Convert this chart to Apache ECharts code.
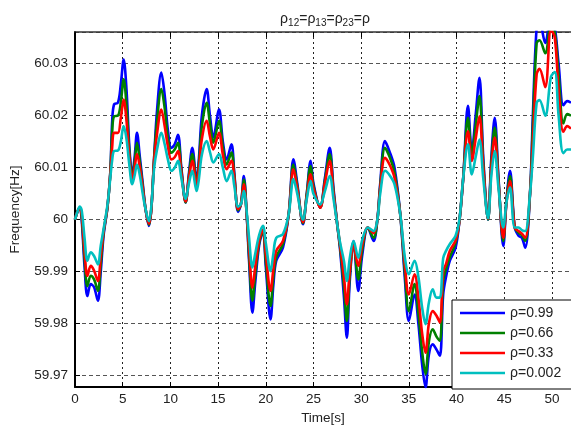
<!DOCTYPE html>
<html>
<head>
<meta charset="utf-8">
<script src="https://cdn.jsdelivr.net/npm/echarts@6/dist/echarts.min.js"></script>
<style>html,body{margin:0;padding:0;background:#fff}#c{width:571px;height:430px}</style>
</head>
<body>
<div id="c"></div>
<script>
var timeS = [0.0,0.25,0.5,0.7,1.0,1.3,1.65,2.0,2.4,2.7,3.0,3.4,3.7,3.9,4.1,4.5,4.8,5.1,5.4,5.7,6.0,6.25,6.5,6.8,7.1,7.4,7.75,8.0,8.3,8.6,9.05,9.4,9.75,10.1,10.45,10.8,11.15,11.6,11.95,12.3,12.75,13.0,13.3,13.8,14.15,14.5,15.1,15.5,15.9,16.4,16.7,17.1,17.4,17.7,18.0,18.25,18.6,18.9,19.3,19.7,20.0,20.5,20.8,21.1,21.8,22.4,22.9,23.3,23.9,24.3,24.7,25.0,25.7,26.2,26.7,27.1,27.5,27.8,28.2,28.5,28.8,29.2,29.7,30.1,30.7,31.3,31.7,32.0,32.5,33.0,33.5,34.1,34.6,35.0,35.6,36.0,36.4,36.75,37.1,37.5,37.9,38.25,38.6,38.9,39.3,39.9,40.3,40.7,41.2,41.6,42.0,42.4,42.8,43.3,43.65,44.0,44.4,44.9,45.25,45.6,46.1,46.5,46.85,47.2,47.7,48.0,48.4,48.7,49.3,49.9,50.3,50.7,51.2,51.6,52.0];

var freqRho099 = [60.0000,60.0015,60.0023,60.0000,59.9910,59.9853,59.9876,59.9870,59.9844,59.9900,59.9970,60.0023,60.0090,60.0190,60.0222,60.0225,60.0260,60.0308,60.0250,60.0140,60.0087,60.0120,60.0167,60.0120,60.0070,60.0020,59.9988,60.0020,60.0120,60.0210,60.0283,60.0240,60.0170,60.0138,60.0145,60.0163,60.0100,60.0033,60.0090,60.0138,60.0075,60.0120,60.0200,60.0251,60.0200,60.0158,60.0212,60.0150,60.0116,60.0145,60.0090,60.0015,60.0030,60.0084,60.0010,59.9920,59.9821,59.9880,59.9950,59.9978,59.9910,59.9808,59.9875,59.9921,59.9946,60.0010,60.0116,60.0070,59.9991,60.0050,60.0113,60.0070,60.0023,60.0080,60.0138,60.0060,59.9990,59.9940,59.9850,59.9773,59.9880,59.9959,59.9863,59.9930,59.9985,59.9959,60.0000,60.0070,60.0151,60.0130,60.0100,60.0010,59.9882,59.9805,59.9856,59.9800,59.9720,59.9677,59.9740,59.9760,59.9750,59.9738,59.9856,59.9890,59.9921,59.9946,59.9997,60.0080,60.0219,60.0132,60.0200,60.0273,60.0120,60.0000,60.0120,60.0196,60.0080,59.9949,60.0040,60.0094,59.9985,59.9969,59.9965,59.9946,60.0049,60.0200,60.0370,60.0380,60.0340,60.0390,60.0370,60.0300,60.0220,60.0228,60.0225];

var freqRho066 = [60.0000,60.0015,60.0023,60.0005,59.9925,59.9872,59.9892,59.9885,59.9863,59.9915,59.9975,60.0023,60.0090,60.0170,60.0199,60.0200,60.0225,60.0270,60.0220,60.0130,60.0081,60.0110,60.0148,60.0110,60.0065,60.0020,59.9990,60.0020,60.0120,60.0190,60.0251,60.0215,60.0155,60.0129,60.0135,60.0148,60.0095,60.0033,60.0085,60.0126,60.0070,60.0110,60.0180,60.0225,60.0185,60.0148,60.0190,60.0140,60.0106,60.0129,60.0085,60.0018,60.0030,60.0077,60.0010,59.9930,59.9844,59.9895,59.9955,59.9978,59.9920,59.9834,59.9890,59.9928,59.9953,60.0010,60.0106,60.0065,59.9993,60.0050,60.0103,60.0065,60.0023,60.0075,60.0126,60.0055,59.9990,59.9945,59.9870,59.9805,59.9890,59.9956,59.9885,59.9940,59.9985,59.9965,60.0000,60.0065,60.0138,60.0120,60.0090,60.0010,59.9895,59.9824,59.9876,59.9820,59.9745,59.9703,59.9765,59.9789,59.9775,59.9767,59.9882,59.9905,59.9928,59.9955,59.9997,60.0080,60.0196,60.0126,60.0180,60.0238,60.0110,60.0000,60.0110,60.0177,60.0075,59.9959,60.0040,60.0084,59.9985,59.9975,59.9970,59.9959,60.0049,60.0180,60.0340,60.0345,60.0320,60.0375,60.0360,60.0280,60.0185,60.0203,60.0200];

var freqRho033 = [60.0000,60.0015,60.0023,60.0010,59.9940,59.9892,59.9911,59.9902,59.9882,59.9930,59.9978,60.0025,60.0087,60.0140,60.0167,60.0167,60.0195,60.0231,60.0190,60.0120,60.0078,60.0100,60.0126,60.0100,60.0060,60.0020,59.9992,60.0020,60.0115,60.0165,60.0212,60.0180,60.0140,60.0116,60.0120,60.0132,60.0090,60.0035,60.0080,60.0113,60.0065,60.0100,60.0155,60.0190,60.0160,60.0135,60.0167,60.0125,60.0097,60.0113,60.0080,60.0020,60.0030,60.0068,60.0010,59.9945,59.9869,59.9910,59.9960,59.9981,59.9935,59.9863,59.9905,59.9940,59.9959,60.0010,60.0097,60.0060,59.9995,60.0045,60.0087,60.0060,60.0023,60.0070,60.0113,60.0050,59.9990,59.9950,59.9890,59.9837,59.9900,59.9950,59.9911,59.9950,59.9985,59.9974,60.0000,60.0060,60.0119,60.0105,60.0080,60.0010,59.9910,59.9856,59.9895,59.9850,59.9780,59.9744,59.9800,59.9824,59.9815,59.9802,59.9900,59.9915,59.9940,59.9960,59.9997,60.0080,60.0170,60.0113,60.0155,60.0199,60.0100,60.0002,60.0100,60.0158,60.0070,59.9965,60.0035,60.0074,59.9985,59.9978,59.9973,59.9965,60.0049,60.0150,60.0280,60.0290,60.0255,60.0365,60.0350,60.0250,60.0169,60.0180,60.0175];

var freqRho0002 = [60.0000,60.0015,60.0025,60.0018,59.9965,59.9921,59.9937,59.9930,59.9914,59.9950,59.9982,60.0028,60.0080,60.0115,60.0132,60.0133,60.0150,60.0180,60.0155,60.0105,60.0068,60.0085,60.0106,60.0085,60.0050,60.0020,59.9997,60.0025,60.0100,60.0135,60.0167,60.0145,60.0115,60.0094,60.0100,60.0113,60.0080,60.0040,60.0070,60.0094,60.0055,60.0080,60.0125,60.0151,60.0130,60.0110,60.0126,60.0100,60.0074,60.0094,60.0065,60.0025,60.0030,60.0055,60.0015,59.9965,59.9908,59.9935,59.9970,59.9988,59.9955,59.9901,59.9935,59.9965,59.9972,60.0010,60.0078,60.0050,60.0000,60.0040,60.0074,60.0050,60.0029,60.0055,60.0084,60.0040,59.9990,59.9955,59.9920,59.9882,59.9925,59.9959,59.9927,59.9960,59.9985,59.9978,60.0000,60.0050,60.0094,60.0085,60.0068,60.0010,59.9925,59.9895,59.9921,59.9890,59.9830,59.9799,59.9840,59.9866,59.9850,59.9850,59.9926,59.9940,59.9953,59.9969,60.0000,60.0080,60.0145,60.0087,60.0120,60.0154,60.0080,60.0003,60.0085,60.0132,60.0060,59.9985,60.0035,60.0062,59.9985,59.9985,59.9980,59.9978,60.0049,60.0120,60.0225,60.0230,60.0200,60.0275,60.0284,60.0200,60.0128,60.0135,60.0135];

var seriesNames = ['\u03c1=0.99','\u03c1=0.66','\u03c1=0.33','\u03c1=0.002'];
var seriesColors = ['#0000ff','#008000','#ff0000','#00bfbf'];
var seriesValues = [freqRho099, freqRho066, freqRho033, freqRho0002];
var xTickInterval = 5;

function pairs(vals){ return timeS.map(function(t,i){ return [t, vals[i]]; }); }

var FONT = 'Liberation Sans, Arial, sans-serif';
var chart = echarts.init(document.getElementById('c'), null, {renderer:'canvas'});
var series = seriesValues.map(function(v,i){
  return {
    name: seriesNames[i], type:'line', data: pairs(v), showSymbol:false, symbol:'none',
    smooth: 0.35, clip: true, animation:false,
    lineStyle:{color: seriesColors[i], width: 2.6}, itemStyle:{color: seriesColors[i]},
    xAxisIndex:0, yAxisIndex:0
  };
});

chart.setOption({
  backgroundColor:'#fff',
  animation:false,
  title:{
    left: 320, textAlign:'center', top: 5,
    text:'{r|\u03c1}{s|12}{r|=\u03c1}{s|13}{r|=\u03c1}{s|23}{r|=\u03c1}',
    textStyle:{
      fontFamily: FONT, fontWeight:'normal',
      rich:{
        r:{fontSize:14, color:'#222', fontFamily:FONT, fontWeight:'normal', lineHeight:18, verticalAlign:'middle'},
        s:{fontSize:10, color:'#222', fontFamily:FONT, fontWeight:'normal', lineHeight:11, verticalAlign:'bottom'}
      }
    }
  },
  grid:{left:75, right:0, top:32, bottom:43, containLabel:false},
  legend:{
    orient:'vertical', left:452, top:300,
    data: seriesNames,
    itemWidth:45, itemHeight:14, itemGap:6,
    backgroundColor:'#fff', borderColor:'#000', borderWidth:1, borderRadius:0,
    padding:[6,30,9,8],
    textStyle:{fontSize:14, color:'#222', fontFamily:FONT},
    icon:'path://M0,6 L45,6 L45,8.5 L0,8.5 Z'
  },
  xAxis:[{
    type:'value', min:0, max:52, interval:xTickInterval,
    name:'Time[s]', nameLocation:'middle', nameGap:21,
    nameTextStyle:{fontSize:13.5, color:'#222', fontFamily:FONT},
    axisLine:{show:true, onZero:false, lineStyle:{color:'#000', width:2}},
    axisTick:{show:true, inside:true, length:5, lineStyle:{color:'#000'}},
    axisLabel:{fontSize:13.5, color:'#222', fontFamily:FONT, margin:5, showMaxLabel:false},
    splitLine:{show:true, lineStyle:{color:'#222', type:[2,3], width:1}}
  },{
    type:'value', min:0, max:52, interval:xTickInterval, position:'top',
    axisLine:{show:true, onZero:false, lineStyle:{color:'#333', width:1.5}},
    axisTick:{show:true, inside:true, length:5, lineStyle:{color:'#000'}},
    axisLabel:{show:false}, splitLine:{show:false}
  }],
  yAxis:[{
    type:'value', min:59.9678, max:60.0361, splitNumber:7,
    name:'Frequency[Hz]', nameLocation:'middle', nameGap:53,
    nameTextStyle:{fontSize:13.5, color:'#222', fontFamily:FONT},
    axisLine:{show:true, onZero:false, lineStyle:{color:'#000', width:2}},
    axisTick:{show:true, inside:true, length:5, lineStyle:{color:'#000'}},
    axisLabel:{fontSize:13.5, color:'#222', fontFamily:FONT, margin:7, showMinLabel:false, showMaxLabel:false},
    splitLine:{show:true, lineStyle:{color:'#555', type:[4,3], width:1}}
  }],
  series: series
});
</script>
</body>
</html>
